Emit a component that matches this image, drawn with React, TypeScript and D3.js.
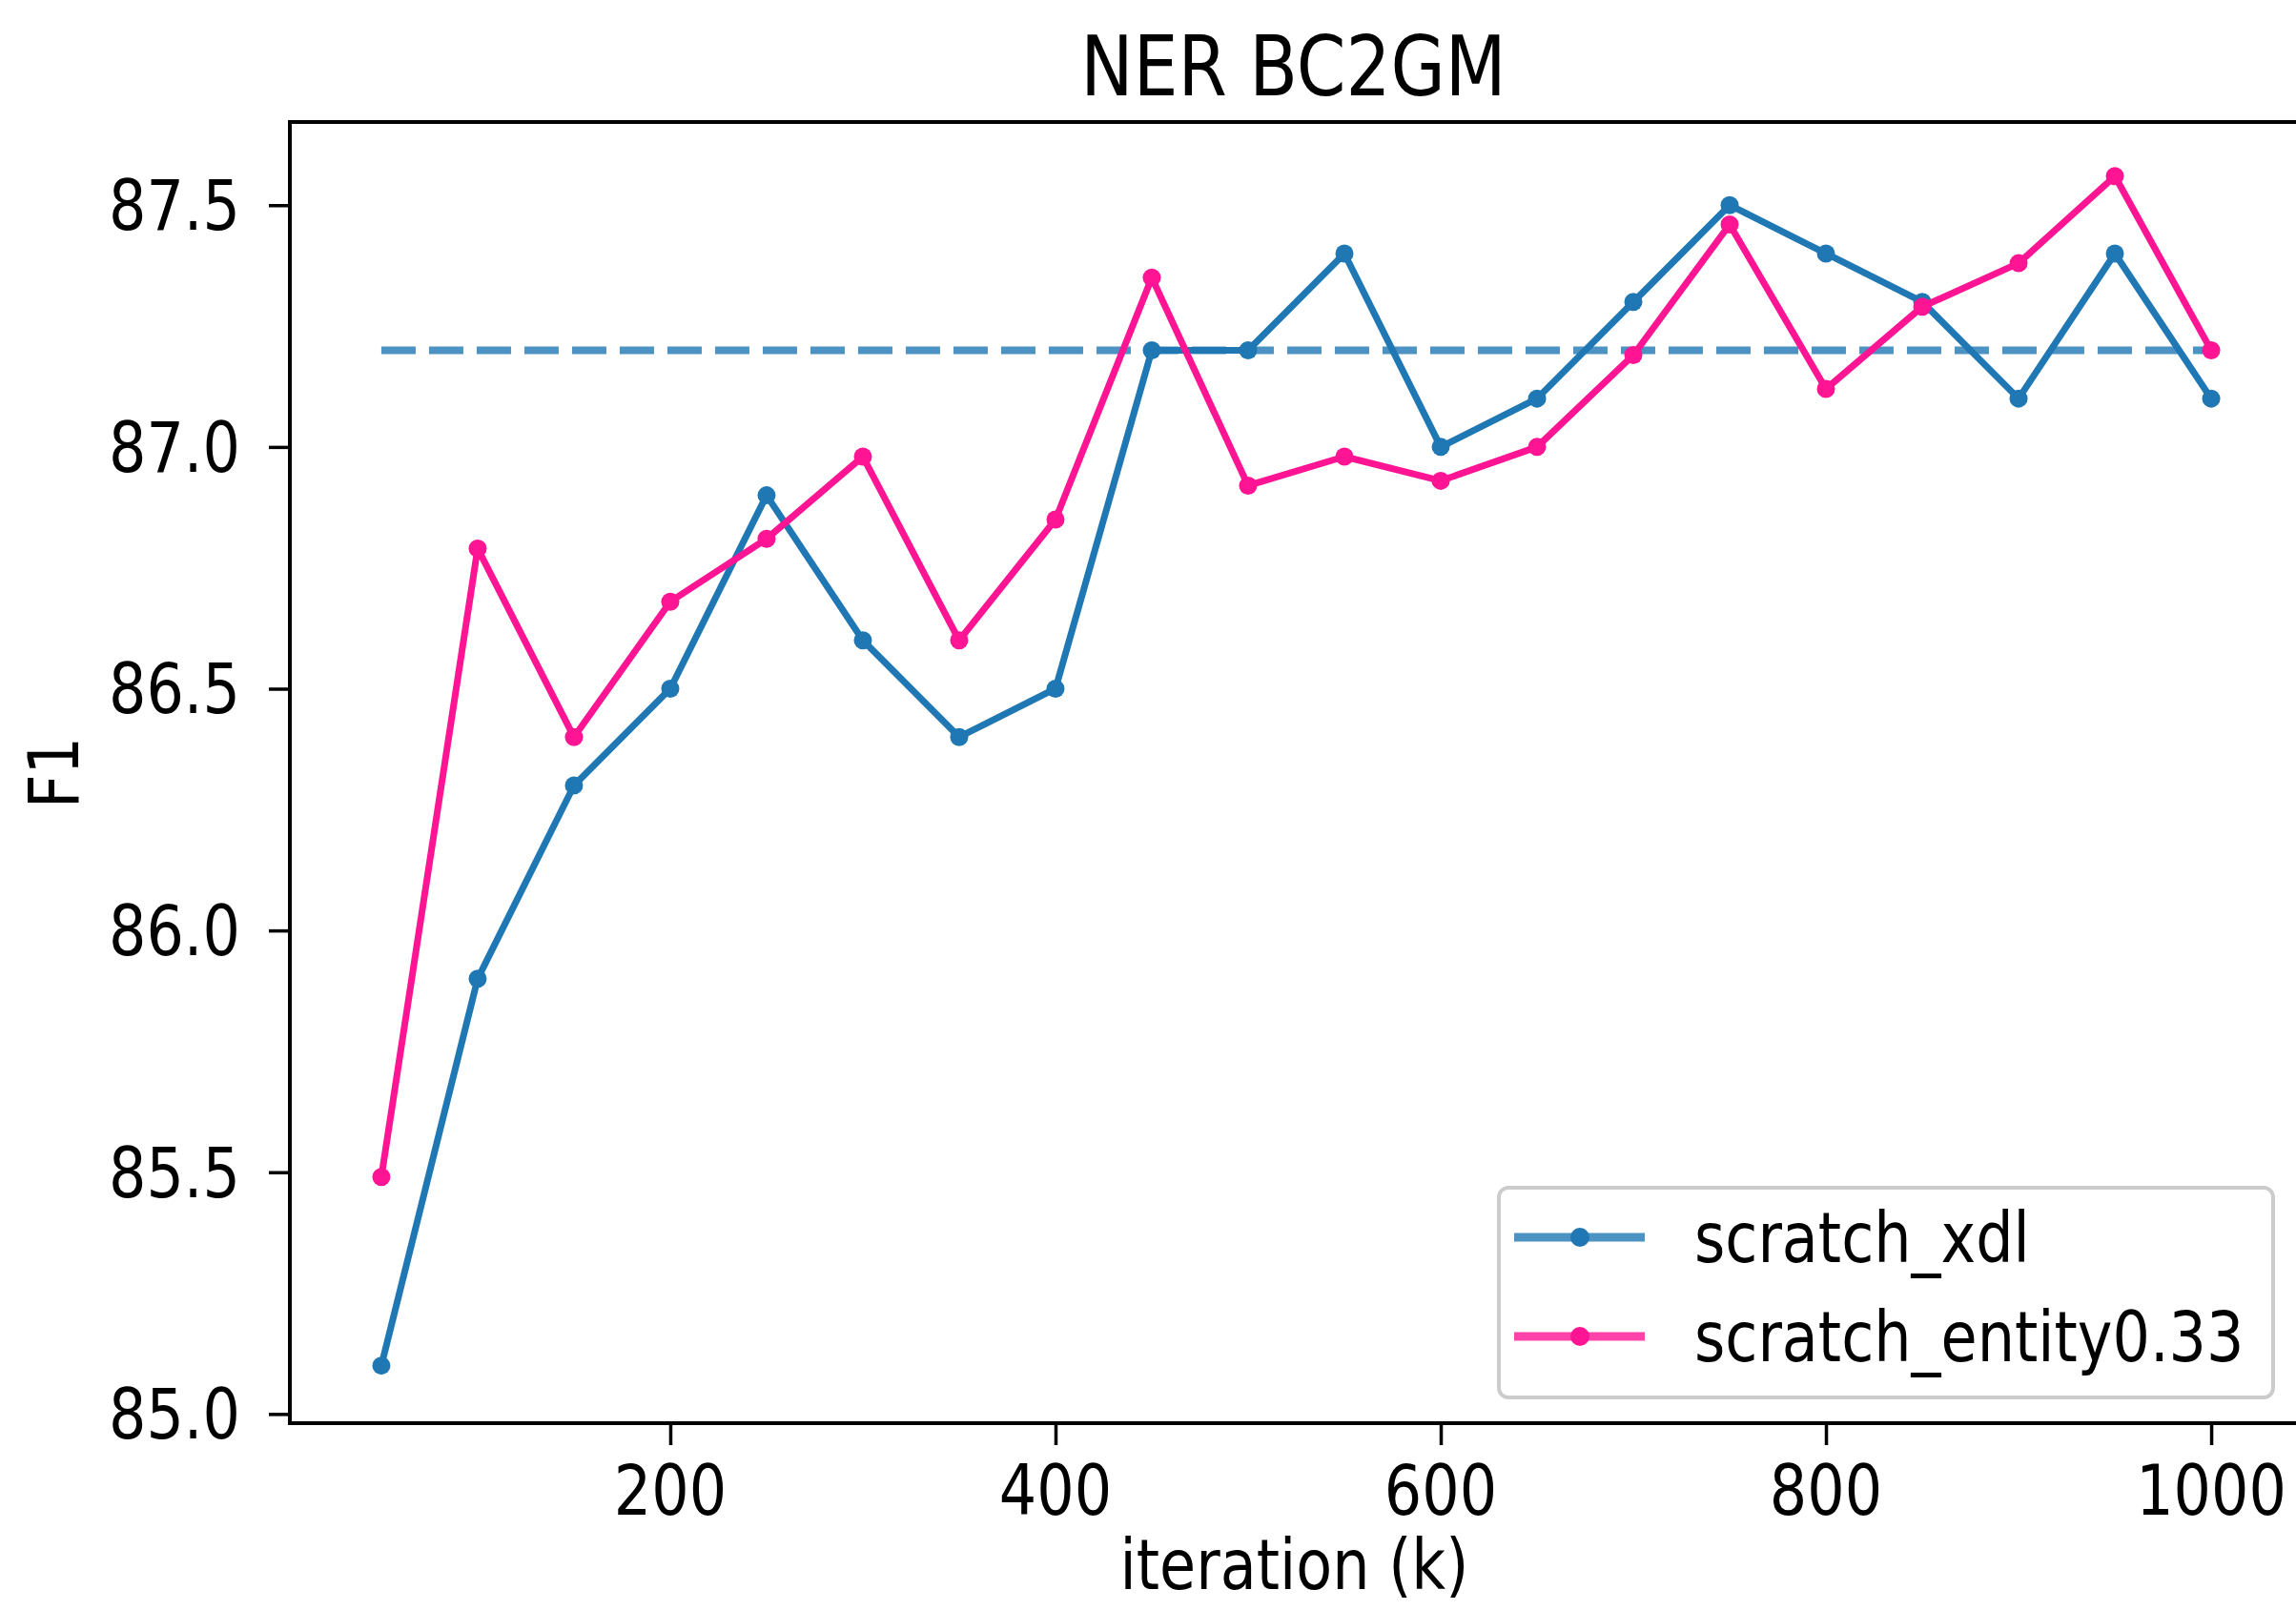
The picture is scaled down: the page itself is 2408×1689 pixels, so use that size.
import React, { useLayoutEffect, useRef } from "react";
import * as d3 from "d3";

const W = 2408;
const H = 1689;

const iterations = [50, 100, 150, 200, 250, 300, 350, 400, 450, 500, 550, 600, 650, 700, 750, 800, 850, 900, 950, 1000];
const xdl = [85.1, 85.9, 86.3, 86.5, 86.9, 86.6, 86.4, 86.5, 87.2, 87.2, 87.4, 87.0, 87.1, 87.3, 87.5, 87.4, 87.3, 87.1, 87.4, 87.1];
const entity = [85.49, 86.79, 86.4, 86.68, 86.81, 86.98, 86.6, 86.85, 87.35, 86.92, 86.98, 86.93, 87.0, 87.19, 87.46, 87.12, 87.29, 87.38, 87.56, 87.2];
const baseline = 87.2;
const xTicks = [200, 400, 600, 800, 1000];
const yTicks = [85.0, 85.5, 86.0, 86.5, 87.0, 87.5];
const seriesNames = ["scratch_xdl", "scratch_entity0.33"];
const seriesColors = ["#1f77b4", "#ff1493"];

const FONT = "'DejaVu Sans', sans-serif";
const STRETCH = 1.18;

export default function App() {
  const ref = useRef<SVGSVGElement>(null);

  useLayoutEffect(() => {
    const svg = d3.select(ref.current);
    svg.selectAll("*").remove();

    const left = 304, right = 2415, top = 128, bottom = 1493;

    const x = d3.scaleLinear().domain([2.5, 1047.5]).range([left, right]);
    const y = d3.scaleLinear().domain([84.981, 87.672]).range([bottom, top]);

    // text helper, glyphs are a bit taller in the reference
    const label = (g, tx, ty, str, size, anchor, rotate = 0) =>
      g
        .append("text")
        .attr("transform", `translate(${tx},${ty}) rotate(${rotate}) scale(1,${STRETCH})`)
        .attr("font-family", FONT)
        .attr("font-size", size)
        .attr("text-anchor", anchor)
        .attr("fill", "#000")
        .text(str);

    // dashed reference line
    svg
      .append("line")
      .attr("x1", x(iterations[0]))
      .attr("x2", x(iterations[iterations.length - 1]))
      .attr("y1", y(baseline))
      .attr("y2", y(baseline))
      .attr("stroke", seriesColors[0])
      .attr("stroke-opacity", 0.8)
      .attr("stroke-width", 8)
      .attr("stroke-dasharray", "36 14");

    const line = d3
      .line<number>()
      .x((d, i) => x(iterations[i]))
      .y((d) => y(d));

    [xdl, entity].forEach((vals, k) => {
      svg
        .append("path")
        .attr("d", line(vals))
        .attr("fill", "none")
        .attr("stroke", seriesColors[k])
        .attr("stroke-width", 7)
        .attr("stroke-linejoin", "round");
      svg
        .append("g")
        .selectAll("circle")
        .data(vals)
        .join("circle")
        .attr("cx", (d, i) => x(iterations[i]))
        .attr("cy", (d) => y(d))
        .attr("r", 9.5)
        .attr("fill", seriesColors[k]);
    });

    // spines
    svg
      .append("rect")
      .attr("x", left)
      .attr("y", top)
      .attr("width", right - left)
      .attr("height", bottom - top)
      .attr("fill", "none")
      .attr("stroke", "#000")
      .attr("stroke-width", 4);

    // tick marks (labels drawn separately)
    const xAxis = d3.axisBottom(x).tickValues(xTicks).tickSize(23).tickFormat(() => "").tickSizeOuter(0);
    const gx = svg.append("g").attr("transform", `translate(0,${bottom})`).call(xAxis);
    const yAxis = d3.axisLeft(y).tickValues(yTicks).tickSize(22).tickFormat(() => "").tickSizeOuter(0);
    const gy = svg.append("g").attr("transform", `translate(${left},0)`).call(yAxis);
    [gx, gy].forEach((g) => {
      g.select(".domain").remove();
      g.selectAll("line").attr("stroke", "#000").attr("stroke-width", 3.5);
    });

    xTicks.forEach((t) => label(svg, x(t), 1589, String(t), 62, "middle"));
    yTicks.forEach((t) => label(svg, 252, y(t) + 26, t.toFixed(1), 62, "end"));

    label(svg, (left + right) / 2 - 2, 1667, "iteration (k)", 62, "middle");
    label(svg, 82, (top + bottom) / 2, "F1", 62, "middle", -90);
    label(svg, (left + right) / 2 - 3, 100, "NER BC2GM", 74, "middle");

    // legend
    const lg = svg.append("g");
    lg.append("rect")
      .attr("x", 1572)
      .attr("y", 1246)
      .attr("width", 812)
      .attr("height", 220)
      .attr("rx", 10)
      .attr("fill", "#fff")
      .attr("fill-opacity", 0.8)
      .attr("stroke", "#cccccc")
      .attr("stroke-width", 4);
    seriesNames.forEach((name, k) => {
      const cy = 1298 + k * 104;
      lg.append("line")
        .attr("x1", 1588)
        .attr("x2", 1725)
        .attr("y1", cy)
        .attr("y2", cy)
        .attr("stroke", seriesColors[k])
        .attr("stroke-opacity", 0.8)
        .attr("stroke-width", 9);
      lg.append("circle").attr("cx", 1657).attr("cy", cy).attr("r", 10).attr("fill", seriesColors[k]);
      label(lg, 1777, cy + 26, name, 62, "start");
    });
  }, []);

  return (
    <svg
      ref={ref}
      width={W}
      height={H}
      style={{ position: "absolute", left: 0, top: 0, background: "#fff" }}
    ></svg>
  );
}
